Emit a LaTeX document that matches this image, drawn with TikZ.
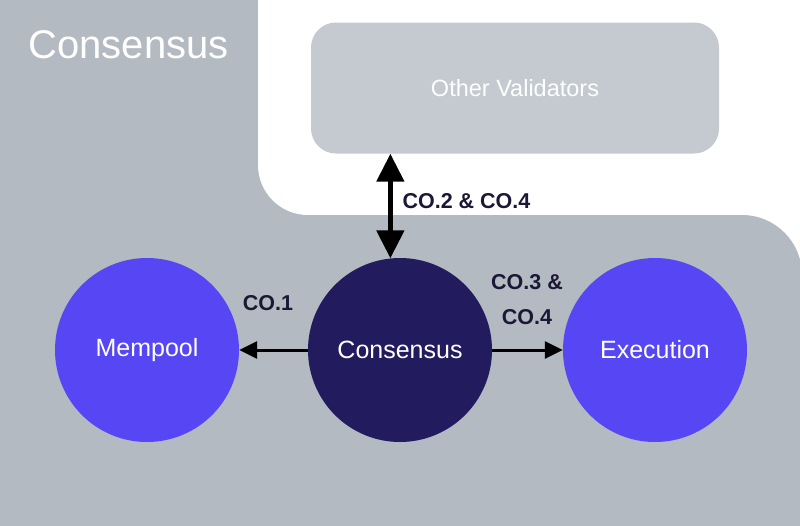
\documentclass[tikz,border=0pt]{standalone}
\usepackage{fontspec}
\setmainfont{Liberation Sans}
\usepackage{tikz}
\usetikzlibrary{arrows.meta}
\definecolor{bggray}{HTML}{B3BAC1}
\definecolor{boxgray}{HTML}{C5CAD0}
\definecolor{modpurple}{HTML}{5646F3}
\definecolor{moddark}{HTML}{221C5E}
\definecolor{labelink}{HTML}{1B1836}

\begin{document}
\begin{tikzpicture}
   [x=1pt,y=-1pt,
    module/.style={circle,minimum size=184pt,inner sep=0pt,text=white,
       font=\fontsize{25}{29}\selectfont},
    peerbox/.style={rounded corners=25pt,minimum width=408pt,minimum height=131pt,
       fill=boxgray,text=white,font=\fontsize{23.5}{27}\selectfont},
    colabel/.style={text=labelink,align=center,font=\bfseries\fontsize{21.5}{35}\selectfont},
    bigarrow/.style={line width=5pt,{Triangle[length=28pt,width=27pt]}-{Triangle[length=28pt,width=27pt]}},
    smallarrow/.style={line width=3pt,-{Triangle[length=18pt,width=17pt]}}]
   \useasboundingbox (0,0) rectangle (800,525);
   \begin{scope}
      \clip (0,0) rectangle (800,525);
      \fill[bggray] (0,0) rectangle (330,300);
      \fill[white,rounded corners=50pt] (258,-100) rectangle (900,215);
      \fill[bggray,rounded corners=60pt] (-100,215) rectangle (802,700);
   \end{scope}

   \node[anchor=west,text=white,font=\fontsize{40}{46}\selectfont] (title) at (25,45) {Consensus};
   \node[peerbox] (other) at (515,88) {Other Validators};

   \node[module,fill=moddark] (cons) at (400,350) {Consensus};
   \node[module,fill=modpurple] (mem) at (147,350) {Mempool};
   \node[module,fill=modpurple] (exec) at (655,350) {Execution};

   \draw[bigarrow] (cons.96 |- other.south) -- (cons.96);
   \draw[smallarrow] (cons.west) -- (mem.east);
   \draw[smallarrow] (cons.east) -- (exec.west);

   \node[colabel,anchor=west] (co24) at (399,201) {CO.2 \& CO.4};
   \node[colabel] (co1) at (268,303) {CO.1};
   \node[colabel] (co34) at (527,300) {CO.3 \&\\CO.4};
\end{tikzpicture}
\end{document}
